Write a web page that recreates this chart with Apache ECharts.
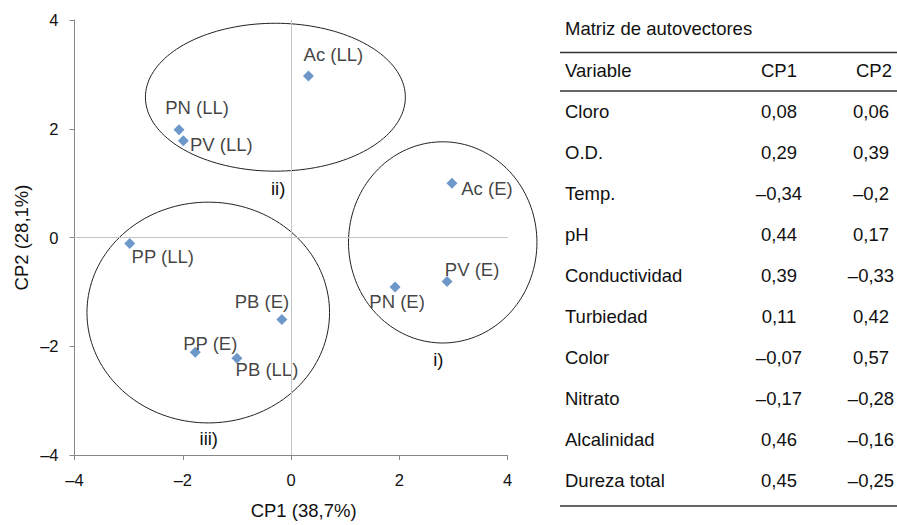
<!DOCTYPE html>
<html>
<head>
<meta charset="utf-8">
<script src="https://cdn.jsdelivr.net/npm/echarts@6/dist/echarts.min.js"></script>
<style>
html,body{margin:0;padding:0;background:#fff;}
#chart{width:897px;height:525px;}
</style>
</head>
<body>
<div id="chart"></div>
<script>
// ---- Data ----
const pointNames = ['Ac (LL)', 'PN (LL)', 'PV (LL)', 'Ac (E)', 'PP (LL)', 'PB (E)', 'PP (E)', 'PB (LL)', 'PN (E)', 'PV (E)'];
const cp1Scores = [0.32, -2.07, -1.99, 2.97, -2.98, -0.17, -1.77, -1.00, 1.92, 2.88];
const cp2Scores = [2.97, 1.98, 1.78, 1.00, -0.11, -1.51, -2.11, -2.22, -0.91, -0.81];

const groupNames = ['ii)', 'i)', 'iii)'];
const groupCenterX = [-0.29, 2.80, -1.53];
const groupCenterY = [2.58, -0.09, -1.38];
const groupRadiusX = [2.40, 1.74, 2.24];
const groupRadiusY = [1.36, 1.85, 2.03];
const groupLabelX = [-0.24, 2.72, -1.52];
const groupLabelY = [0.90, -2.24, -3.69];

const axisTicks = [-4, -2, 0, 2, 4];
const xAxisTitle = 'CP1 (38,7%)';
const yAxisTitle = 'CP2 (28,1%)';

const tableTitle = 'Matriz de autovectores';
const tableHeader = ['Variable', 'CP1', 'CP2'];
const tableVariables = ['Cloro', 'O.D.', 'Temp.', 'pH', 'Conductividad', 'Turbiedad', 'Color', 'Nitrato', 'Alcalinidad', 'Dureza total'];
const tableCP1 = ['0,08', '0,29', '–0,34', '0,44', '0,39', '0,11', '–0,07', '–0,17', '0,46', '0,45'];
const tableCP2 = ['0,06', '0,39', '–0,2', '0,17', '–0,33', '0,42', '0,57', '–0,28', '–0,16', '–0,25'];

// ---- Styles (label offsets in px) ----
const labelOffsets = [[25, -22], [18, -22], [38, 4], [35, 5], [33, 13], [-20, -18], [15, -9], [30, 11], [2, 15], [25, -12]];
const FONT = '"Liberation Sans", Arial, Helvetica, sans-serif';
const TEXT = '#111';
const FS = 18.5;

const chart = echarts.init(document.getElementById('chart'), null, {renderer: 'svg'});

const fmt = v => (v < 0 ? '–' + Math.abs(v) : String(v));

const scatterData = pointNames.map((n, i) => ({
  name: n,
  value: [cp1Scores[i], cp2Scores[i]],
  label: {offset: labelOffsets[i]}
}));

const ellipseData = groupNames.map((n, i) => [groupCenterX[i], groupCenterY[i], groupRadiusX[i], groupRadiusY[i], groupLabelX[i], groupLabelY[i], n]);

// table graphics
const tableGraphics = [];
const colVarX = 565, colCP1X = 779, colCP2X = 871;
const lineX1 = 560, lineX2 = 897;
function cell(text, x, y, align) {
  return {type: 'text', x: x, y: y, style: {text: text, font: FS + 'px ' + FONT, fill: TEXT, textAlign: align, textVerticalAlign: 'middle', align: align, verticalAlign: 'middle'}};
}
tableGraphics.push(cell(tableTitle, colVarX, 28.5, 'left'));
[52.5, 91, 506].forEach(y => tableGraphics.push({type: 'line', shape: {x1: lineX1, y1: y, x2: lineX2, y2: y}, style: {stroke: '#333', lineWidth: 1.3}}));
tableGraphics.push(cell(tableHeader[0], colVarX, 70, 'left'));
tableGraphics.push(cell(tableHeader[1], colCP1X, 70, 'center'));
tableGraphics.push(cell(tableHeader[2], colCP2X + 3, 70, 'center'));
tableVariables.forEach((v, i) => {
  const y = 111.7 + 41 * i;
  tableGraphics.push(cell(v, colVarX, y, 'left'));
  tableGraphics.push(cell(tableCP1[i], colCP1X, y, 'center'));
  tableGraphics.push(cell(tableCP2[i], colCP2X, y, 'center'));
});

const option = {
  animation: false,
  backgroundColor: '#fff',
  grid: {left: 74.5, right: 389.3, top: 20, bottom: 62.3, containLabel: false},
  xAxis: {
    type: 'value', min: axisTicks[0], max: axisTicks[axisTicks.length - 1], interval: 2,
    name: xAxisTitle, nameLocation: 'middle', nameGap: 46,
    nameTextStyle: {fontSize: FS, fontFamily: FONT, color: TEXT, padding: [0, 0, 0, 25]},
    axisLine: {onZero: false, lineStyle: {color: '#868686', width: 1}},
    axisTick: {show: true, length: 5, lineStyle: {color: '#868686'}},
    axisLabel: {formatter: fmt, fontSize: 16.5, fontFamily: FONT, color: TEXT, margin: 16},
    splitLine: {show: false}
  },
  yAxis: {
    type: 'value', min: axisTicks[0], max: axisTicks[axisTicks.length - 1], interval: 2,
    name: yAxisTitle, nameLocation: 'middle', nameGap: 44,
    nameTextStyle: {fontSize: FS, fontFamily: FONT, color: TEXT},
    axisLine: {show: true, onZero: false, lineStyle: {color: '#868686', width: 1}},
    axisTick: {show: true, length: 5, lineStyle: {color: '#868686'}},
    axisLabel: {formatter: fmt, fontSize: 16.5, fontFamily: FONT, color: TEXT, margin: 16},
    splitLine: {show: false}
  },
  series: [
    {
      type: 'custom',
      clip: false,
      silent: true,
      z: 1,
      data: ellipseData,
      renderItem: function (params, api) {
        const c = api.coord([api.value(0), api.value(1)]);
        const s = api.size([api.value(2), api.value(3)]);
        const lp = api.coord([api.value(4), api.value(5)]);
        const pts = [];
        const N = 160;
        for (let k = 0; k < N; k++) {
          const t = 2 * Math.PI * k / N;
          pts.push([c[0] + s[0] * Math.cos(t), c[1] + s[1] * Math.sin(t)]);
        }
        return {
          type: 'group',
          children: [
            {type: 'polygon', shape: {points: pts}, style: {fill: 'none', stroke: '#222', lineWidth: 1}},
            {type: 'text', x: lp[0], y: lp[1], style: {text: ellipseData[params.dataIndex][6], font: FS + 'px ' + FONT, fill: TEXT, align: 'center', verticalAlign: 'middle', textAlign: 'center', textVerticalAlign: 'middle'}}
          ]
        };
      }
    },
    {
      type: 'scatter',
      z: 3,
      symbol: 'diamond',
      symbolSize: 11,
      itemStyle: {color: '#4a7ebb'},
      label: {show: true, position: 'inside', formatter: '{b}', fontSize: FS, fontFamily: FONT, color: TEXT, textBorderWidth: 0, textBorderColor: 'transparent'},
      data: scatterData,
      markLine: {
        silent: true,
        symbol: 'none',
        label: {show: false},
        lineStyle: {color: '#c4c4c4', type: 'solid', width: 1},
        data: [{xAxis: 0}, {yAxis: 0}]
      }
    }
  ],
  graphic: tableGraphics
};
chart.setOption(option);
</script>
</body>
</html>
